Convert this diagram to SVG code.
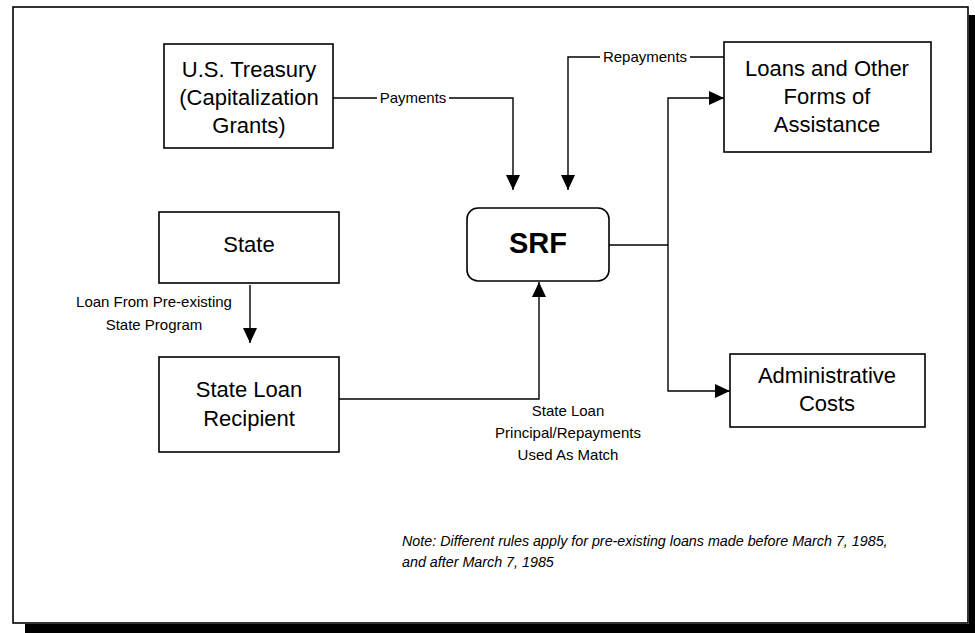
<svg xmlns="http://www.w3.org/2000/svg" width="975" height="633" viewBox="0 0 975 633">
  <defs>
    <marker id="arrowL" viewBox="0 0 15 14" refX="15" refY="7" markerWidth="15" markerHeight="14" markerUnits="userSpaceOnUse" orient="auto">
      <path d="M0,0 L15,7 L0,14 Z" fill="#000"/>
    </marker>
  </defs>
  <style>
    .box { fill: #fff; stroke: #000; stroke-width: 1.6; }
    .edge { fill: none; stroke: #000; stroke-width: 1.4; }
    .big { font-family: "Liberation Sans", Arial, sans-serif; font-size: 22px; fill: #000; text-anchor: middle; }
    .srf { font-family: "Liberation Sans", Arial, sans-serif; font-size: 29px; font-weight: bold; fill: #000; text-anchor: middle; }
    .lbl { font-family: "Liberation Sans", Arial, sans-serif; font-size: 15px; fill: #000; text-anchor: middle; }
    .note { font-family: "Liberation Sans", Arial, sans-serif; font-size: 14.3px; font-style: italic; fill: #000; }
  </style>

  <rect width="975" height="633" fill="#fff"/>

  <!-- page frame with drop shadow -->
  <g id="frame">
    <rect x="969" y="15" width="6" height="618" fill="#000"/>
    <rect x="25" y="624" width="950" height="9" fill="#000"/>
    <rect x="13" y="7" width="955" height="616" fill="none" stroke="#000" stroke-width="1.6"/>
  </g>

  <!-- connectors -->
  <g id="connectors">
    <!-- Treasury payments to SRF -->
    <polyline class="edge" points="333,98 513,98 513,190" marker-end="url(#arrowL)"/>
    <rect x="377" y="90" width="72" height="15" fill="#fff"/>
    <text class="lbl" x="413" y="103">Payments</text>

    <!-- Repayments from loans back to SRF -->
    <polyline class="edge" points="724,57 568,57 568,190" marker-end="url(#arrowL)"/>
    <rect x="600" y="49" width="90" height="15" fill="#fff"/>
    <text class="lbl" x="645" y="62">Repayments</text>

    <!-- SRF outflows -->
    <polyline class="edge" points="609,245 668,245"/>
    <polyline class="edge" points="668,245 668,98 724,98" marker-end="url(#arrowL)"/>
    <polyline class="edge" points="668,245 668,391 730,391" marker-end="url(#arrowL)"/>

    <!-- State to State Loan Recipient -->
    <line class="edge" x1="250" y1="285" x2="250" y2="343" marker-end="url(#arrowL)"/>
    <text class="lbl" x="154" y="307">Loan From Pre-existing</text>
    <text class="lbl" x="154" y="330">State Program</text>

    <!-- State Loan Recipient to SRF -->
    <polyline class="edge" points="339,399 539,399 539,282" marker-end="url(#arrowL)"/>
    <text class="lbl" x="568" y="416">State Loan</text>
    <text class="lbl" x="568" y="438">Principal/Repayments</text>
    <text class="lbl" x="568" y="460">Used As Match</text>
  </g>

  <g id="treasury">
    <rect class="box" x="164" y="44" width="169" height="104"/>
    <text class="big" x="249" y="77">U.S. Treasury</text>
    <text class="big" x="249" y="105">(Capitalization</text>
    <text class="big" x="249" y="133">Grants)</text>
  </g>

  <g id="state">
    <rect class="box" x="159" y="212" width="180" height="71"/>
    <text class="big" x="249" y="252">State</text>
  </g>

  <g id="recipient">
    <rect class="box" x="159" y="357" width="180" height="95"/>
    <text class="big" x="249" y="397">State Loan</text>
    <text class="big" x="249" y="426">Recipient</text>
  </g>

  <g id="srf">
    <rect class="box" x="467" y="208" width="142" height="73" rx="11" ry="11"/>
    <text class="srf" x="538" y="253">SRF</text>
  </g>

  <g id="loans">
    <rect class="box" x="724" y="42" width="207" height="110"/>
    <text class="big" x="827" y="76">Loans and Other</text>
    <text class="big" x="827" y="104">Forms of</text>
    <text class="big" x="827" y="132">Assistance</text>
  </g>

  <g id="admin">
    <rect class="box" x="730" y="354" width="195" height="73"/>
    <text class="big" x="827" y="383">Administrative</text>
    <text class="big" x="827" y="411">Costs</text>
  </g>

  <g id="note">
    <text class="note" x="402" y="546">Note:  Different rules apply for pre-existing loans made before March 7, 1985,</text>
    <text class="note" x="402" y="567">and after March 7, 1985</text>
  </g>
</svg>
